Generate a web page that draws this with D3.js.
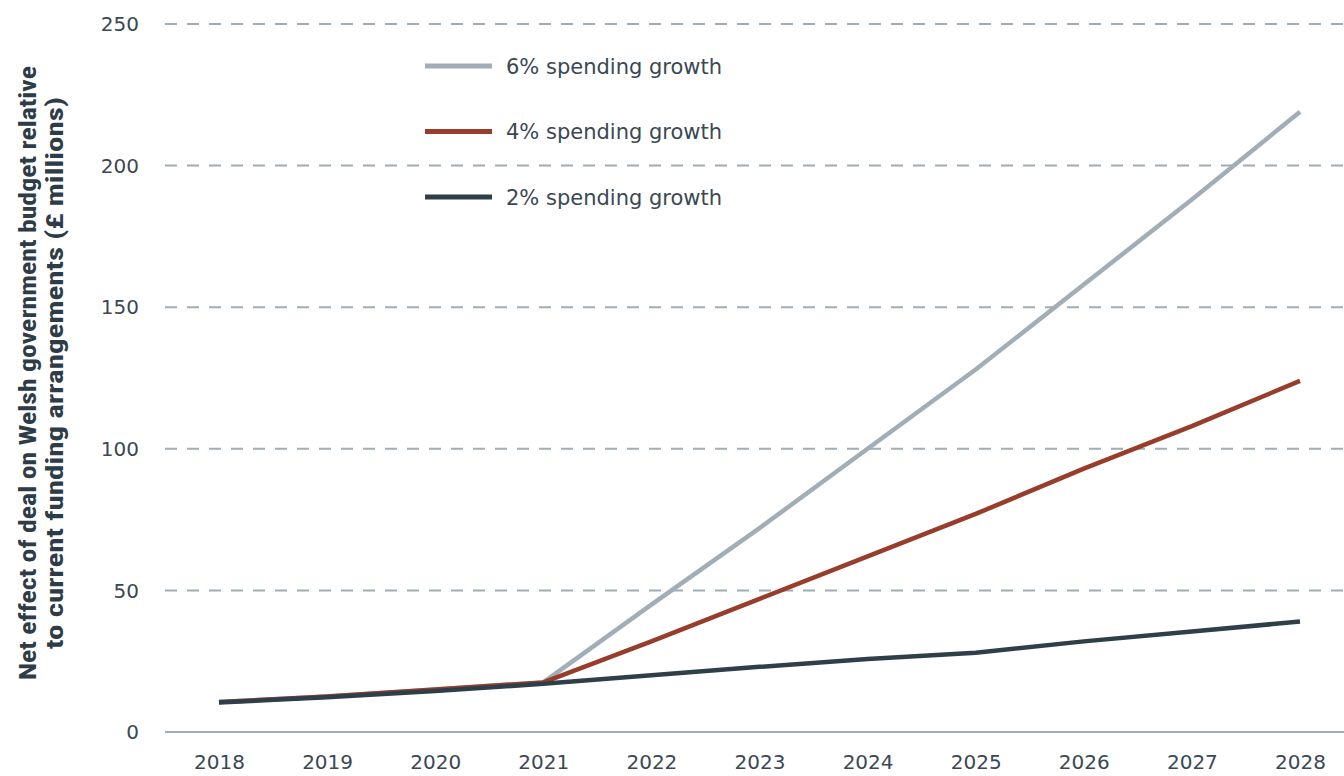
<!DOCTYPE html>
<html>
<head>
<meta charset="utf-8">
<script src="https://cdn.jsdelivr.net/npm/d3@7"></script>
<style>
  body { margin: 0; background: #fff; }
  svg { display: block; }
</style>
</head>
<body>
<div class="chart"></div>
<script>
// data
const years = [2018, 2019, 2020, 2021, 2022, 2023, 2024, 2025, 2026, 2027, 2028];
const growth6 = [10.6, 12.5, 15, 17.5, 45, 72, 100, 128, 158, 188, 219];
const growth4 = [10.6, 12.5, 15, 17.5, 32, 47, 62, 77, 93, 108, 124];
const growth2 = [10.4, 12.3, 14.5, 17, 20, 23, 25.8, 28, 32, 35.5, 39];
const seriesNames = ["6% spending growth", "4% spending growth", "2% spending growth"];
const yTicks = [0, 50, 100, 150, 200, 250];

const colors = ["#a1aeb7", "#983d2b", "#2f3f4a"];
const textColor = "#3a4853";
const gridColor = "#a0adb6";
const tickFont = "'DejaVu Sans', Verdana, sans-serif";

const W = 1344, H = 776;
const margin = { top: 24, right: 44, bottom: 44, left: 219 };

const svg = d3.select(".chart").append("svg").attr("width", W).attr("height", H);

const x = d3.scaleLinear().domain([2018, 2028]).range([margin.left, W - margin.right]);
const y = d3.scaleLinear().domain([0, 250]).range([H - margin.bottom, margin.top]);

// gitterlinjer
svg.append("g")
  .selectAll("line")
  .data(yTicks)
  .join("line")
  .attr("x1", 165)
  .attr("x2", W)
  .attr("y1", (d) => y(d))
  .attr("y2", (d) => y(d))
  .attr("stroke", gridColor)
  .attr("stroke-width", 2)
  .attr("stroke-dasharray", (d) => (d === 0 ? null : "12,10"));

// y tick labels
svg.append("g")
  .selectAll("text")
  .data(yTicks)
  .join("text")
  .attr("x", 139)
  .attr("y", (d) => y(d))
  .attr("dy", "0.36em")
  .attr("text-anchor", "end")
  .attr("fill", textColor)
  .style("font-family", tickFont)
  .style("font-size", "20px")
  .text((d) => d);

// x tick labels
const xAxis = svg.append("g")
  .attr("transform", "translate(0," + (H - margin.bottom) + ")")
  .call(d3.axisBottom(x).tickValues(years).tickFormat(d3.format("d")).tickSize(0).tickPadding(23));
xAxis.select(".domain").remove();
xAxis.selectAll("text")
  .attr("fill", textColor)
  .style("font-family", tickFont)
  .style("font-size", "20px");

// y-akse titel
const yTitle = svg.append("text")
  .attr("transform", "translate(46," + 373 + ") rotate(-90)")
  .attr("text-anchor", "middle")
  .attr("fill", "#2d3c47")
  .style("font-family", "'Liberation Sans Narrow', 'Roboto Condensed', sans-serif")
  .style("font-weight", "bold")
  .style("font-size", "24px");
yTitle.append("tspan").attr("x", 0).attr("dy", "-0.4em")
  .attr("textLength", 614).attr("lengthAdjust", "spacingAndGlyphs")
  .text("Net effect of deal on Welsh government budget relative");
yTitle.append("tspan").attr("x", 0).attr("dy", "1.12em")
  .attr("textLength", 552).attr("lengthAdjust", "spacingAndGlyphs")
  .text("to current funding arrangements (£ millions)");

// linjerne
const line = d3.line()
  .x((d, i) => x(years[i]))
  .y((d) => y(d));

const allSeries = [growth6, growth4, growth2];

svg.append("g")
  .selectAll("path")
  .data(allSeries)
  .join("path")
  .attr("fill", "none")
  .attr("stroke", (d, i) => colors[i])
  .attr("stroke-width", 4.5)
  .attr("stroke-linejoin", "round")
  .attr("d", line);

// legend
const legend = svg.append("g")
  .selectAll("g")
  .data(seriesNames)
  .join("g")
  .attr("transform", (d, i) => "translate(425," + (66 + i * 65.5) + ")");

legend.append("line")
  .attr("x1", 0)
  .attr("x2", 67)
  .attr("stroke", (d, i) => colors[i])
  .attr("stroke-width", 5);

legend.append("text")
  .attr("x", 81)
  .attr("dy", "0.36em")
  .attr("fill", textColor)
  .style("font-family", tickFont)
  .style("font-size", "21px")
  .text((d) => d);
</script>
</body>
</html>
